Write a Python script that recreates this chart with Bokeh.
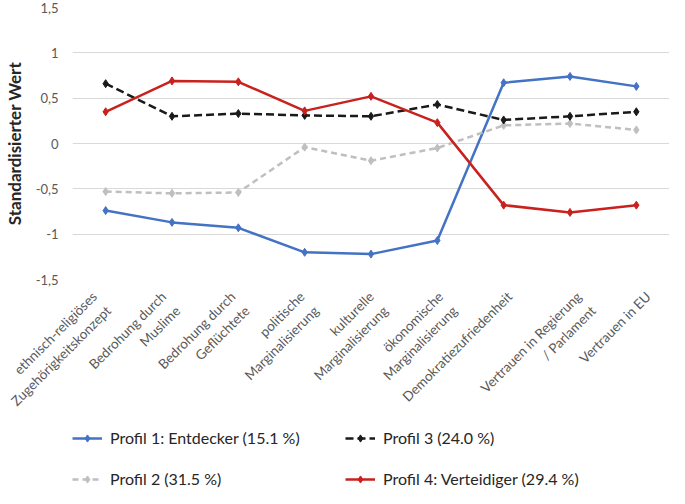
import math
from bokeh.plotting import figure
from bokeh.models import FixedTicker, Legend, LegendItem, FactorRange, Range1d
from bokeh.core.properties import value
from bokeh.embed import file_html
from bokeh.resources import INLINE

categories = [
    "ethnisch-religiöses\nZugehörigkeitskonzept",
    "Bedrohung durch\nMuslime",
    "Bedrohung durch\nGeflüchtete",
    "politische\nMarginalisierung",
    "kulturelle\nMarginalisierung",
    "ökonomische\nMarginalisierung",
    "Demokratiezufriedenheit",
    "Vertrauen in Regierung\n/ Parlament",
    "Vertrauen in EU",
]
profil1 = [-0.74, -0.87, -0.93, -1.20, -1.22, -1.07, 0.67, 0.74, 0.63]
profil2 = [-0.53, -0.55, -0.54, -0.04, -0.19, -0.05, 0.20, 0.22, 0.15]
profil3 = [0.66, 0.30, 0.33, 0.31, 0.30, 0.43, 0.26, 0.30, 0.35]
profil4 = [0.35, 0.69, 0.68, 0.36, 0.52, 0.23, -0.68, -0.76, -0.68]
y_ticks = [-1.5, -1.0, -0.5, 0.0, 0.5, 1.0, 1.5]
y_tick_labels = ["-1,5", "-1", "-0,5", "0", "0,5", "1", "1,5"]
names = ["Profil 1: Entdecker (15.1 %)", "Profil 2 (31.5 %)",
         "Profil 3 (24.0 %)", "Profil 4: Verteidiger (29.4 %)"]

FONT = "Lato"
TICK_COLOR = "#595959"

series = [
    (profil1, "#4472C4", "solid"),
    (profil2, "#BFBFBF", "6 4"),
    (profil3, "#1A1A1A", "8 4"),
    (profil4, "#C9211E", "solid"),
]

# ---- main chart ----
p = figure(x_range=FactorRange(factors=categories), y_range=(-1.5, 1.5),
           width=669, height=287,
           output_backend="svg", toolbar_location=None,
           min_border_top=7, min_border_right=0, min_border_left=60,
           min_border_bottom=8)
p.outline_line_color = None
p.xaxis.visible = False

for vals, col, dash in series:
    p.line(categories, vals, line_color=col, line_width=2.5, line_dash=dash)
    p.scatter(categories, vals, marker="diamond", size=8, fill_color=col,
              line_color=col)

p.yaxis.ticker = FixedTicker(ticks=y_ticks)
p.yaxis.major_label_overrides = {t: lab for t, lab in zip(y_ticks, y_tick_labels)}
p.yaxis.axis_label = "Standardisierter Wert"
p.yaxis.axis_label_text_font = FONT
p.yaxis.axis_label_text_font_style = "bold"
p.yaxis.axis_label_text_font_size = "17px"
p.yaxis.axis_label_text_color = "#262626"
p.yaxis.axis_label_standoff = 8
p.yaxis.axis_line_color = None
p.yaxis.major_tick_line_color = None
p.yaxis.minor_tick_line_color = None
p.yaxis.major_label_text_font = FONT
p.yaxis.major_label_text_color = TICK_COLOR
p.yaxis.major_label_text_font_size = "13px"
p.yaxis.major_label_standoff = 8

p.xgrid.grid_line_color = None
p.ygrid.grid_line_color = "#D9D9D9"
p.ygrid.grid_line_width = 1.2
p.ygrid.ticker = FixedTicker(ticks=y_ticks)

# ---- category labels + legend (own frame so nothing is clipped) ----
# one blank factor on the left, trimmed by a negative padding, lines the
# categories up with the main chart while leaving room for the long labels
q = figure(x_range=FactorRange(factors=[""] + categories, range_padding=-0.226,
                               range_padding_units="absolute"),
           y_range=Range1d(2, 3),
           width=669, height=201, output_backend="svg", toolbar_location=None,
           min_border_top=0, min_border_right=8, min_border_left=0,
           min_border_bottom=0)
q.outline_line_color = None
q.axis.visible = False
q.grid.grid_line_color = None

q.text(x=categories, y=[3] * len(categories), text=categories,
       angle=math.pi / 4, text_align="right", text_baseline="top",
       y_offset=1, text_font=value(FONT), text_font_size="13.5px",
       text_color=TICK_COLOR, text_line_height=1.25)

# legend glyph renderers (same data, lying outside this frame's y range)
leg_renderers = []
for vals, col, dash in series:
    l = q.line(categories, vals, line_color=col, line_width=2.5, line_dash=dash)
    s = q.scatter(categories, vals, marker="diamond", size=8, fill_color=col,
                  line_color=col)
    leg_renderers.append([l, s])

order = [0, 2, 1, 3]
legend = Legend(items=[LegendItem(label=names[i], renderers=leg_renderers[i]) for i in order],
                orientation="horizontal", ncols=2,
                label_text_font=FONT, label_text_font_size="16px",
                label_text_color="#262626", glyph_width=30, glyph_height=18,
                label_height=18, label_width=213,
                label_standoff=8, spacing=22, padding=0, margin=0,
                border_line_color=None, background_fill_alpha=0,
                location=(72, 0))
q.add_layout(legend, "center")

open("out.html", "w").write(file_html([p, q], INLINE))
